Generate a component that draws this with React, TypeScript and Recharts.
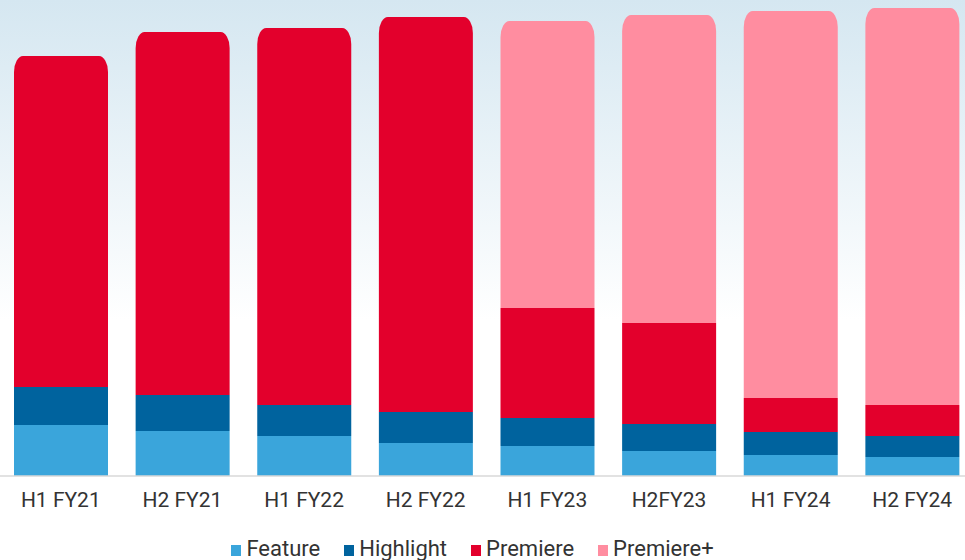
import { BarChart, Bar, XAxis, YAxis, Legend } from "recharts";

const categories = ["H1 FY21", "H2 FY21", "H1 FY22", "H2 FY22", "H1 FY23", "H2FY23", "H1 FY24", "H2 FY24"];
const feature = [51, 45, 40, 33, 30, 25, 21, 19];
const highlight = [38, 36, 31, 31, 28, 27, 23, 21];
const premiere = [331, 363, 377, 395, 110, 101, 34, 31];
const premierePlus = [0, 0, 0, 0, 287, 308, 387, 397];

const SERIES = [
  { key: "feature", name: "Feature", color: "#3aa5db" },
  { key: "highlight", name: "Highlight", color: "#00639e" },
  { key: "premiere", name: "Premiere", color: "#e3002c" },
  { key: "premierePlus", name: "Premiere+", color: "#ff8da0" },
];

const data = categories.map((name, i) => ({
  name,
  feature: feature[i],
  highlight: highlight[i],
  premiere: premiere[i],
  premierePlus: premierePlus[i],
}));

const FONT = "Roboto, sans-serif";

function Segment(props: any) {
  const { x, y, width, height, fill, top } = props;
  if (!height || height <= 0) return null;
  if (!top) {
    return <rect x={x} y={y} width={width} height={height} fill={fill} />;
  }
  const rx = 9;
  const ry = Math.min(16, height);
  const d = `M${x},${y + height} L${x},${y + ry} A${rx},${ry} 0 0 1 ${x + rx},${y} L${x + width - rx},${y} A${rx},${ry} 0 0 1 ${x + width},${y + ry} L${x + width},${y + height} Z`;
  return <path d={d} fill={fill} />;
}

function LegendContent() {
  return (
    <div
      style={{
        display: "flex",
        justifyContent: "center",
        height: 30,
        paddingTop: 7,
        boxSizing: "border-box",
        fontFamily: FONT,
        fontSize: 22,
        lineHeight: "24px",
        color: "#333",
        gap: 24,
        paddingRight: 28,
      }}
    >
      {SERIES.map((s) => (
        <div key={s.key} style={{ display: "flex", alignItems: "center" }}>
          <span style={{ width: 10, height: 11, background: s.color, marginRight: 5, marginTop: 3 }} />
          <span>{s.name}</span>
        </div>
      ))}
    </div>
  );
}

export default function App() {
  return (
    <div
      style={{
        position: "absolute",
        left: 0,
        top: 0,
        width: 965,
        height: 560,
        overflow: "hidden",
        background: "linear-gradient(to bottom, #d5e7f1 0px, #ffffff 320px)",
      }}
    >
      <BarChart width={973} height={560} data={data} margin={{ top: 0, right: 0, bottom: 0, left: 0 }}>
        <XAxis
          dataKey="name"
          height={54}
          tickLine={false}
          tickMargin={10}
          axisLine={{ stroke: "#d9d9d9", strokeWidth: 1.5 }}
          tick={{ fill: "#333", fontSize: 21, fontFamily: FONT }}
          interval={0}
        />
        <YAxis hide domain={[0, 476]} />
        <Legend verticalAlign="bottom" wrapperStyle={{ height: 30 }} content={<LegendContent />} />
        {SERIES.map((s) => (
          <Bar
            key={s.key}
            dataKey={s.key}
            name={s.name}
            stackId="a"
            fill={s.color}
            barSize={94}
            isAnimationActive={false}
            shape={(p: any) => (
              <Segment
                {...p}
                top={s.key === "premierePlus" || (s.key === "premiere" && !p.payload.premierePlus)}
              />
            )}
          />
        ))}
      </BarChart>
    </div>
  );
}
